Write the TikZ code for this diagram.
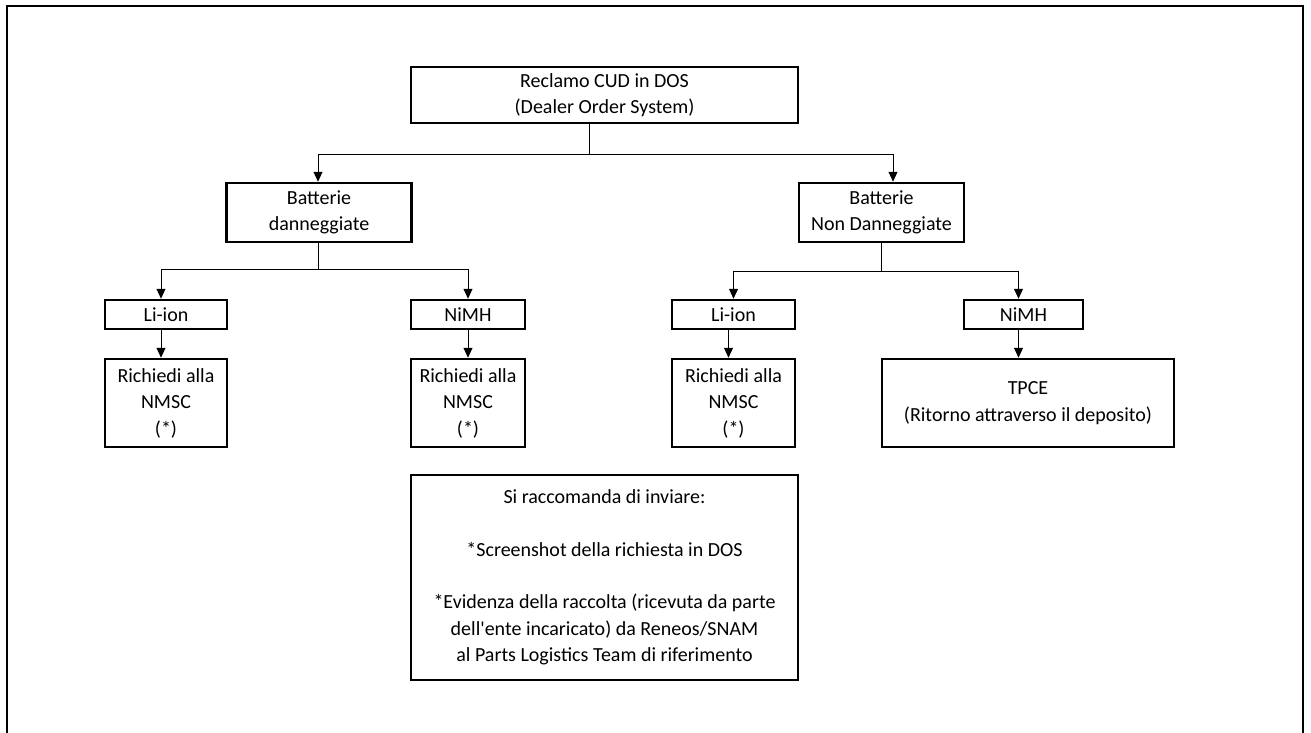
\documentclass[tikz,border=0pt]{standalone}
\usepackage{fontspec}
\setmainfont{Carlito}
\usetikzlibrary{arrows.meta,positioning}

\tikzset{
  box/.style={draw, line width=2.5pt, align=center, inner sep=0pt},
  link/.style={line width=1pt},
  arr/.style={link, -{Triangle[width=9pt,length=10pt]}}
}

\begin{document}
\begin{tikzpicture}[x=1pt,y=-1pt,font=\fontsize{20}{26.5}\selectfont]
    \useasboundingbox (0,0) rectangle (1311,733);
    \draw[line width=2.5pt] (7,733) -- (7,6) -- (1303,6) -- (1303,733);

    \node[box, minimum width=387, minimum height=56] (cud) at (604.5,95)
      {Reclamo CUD in DOS\\(Dealer Order System)};
    \node[box, minimum width=185, minimum height=59] (dan) at (319,212.5)
      {Batterie\\danneggiate};
    \node[box, minimum width=165, minimum height=59] (nondan) at (881.5,212.5)
      {Batterie\\Non Danneggiate};
    \node[box, minimum width=122, minimum height=29] (li1) at (166,314.5) {Li-ion};
    \node[box, minimum width=114, minimum height=29] (ni1) at (468,314.5) {NiMH};
    \node[box, minimum width=123, minimum height=29] (li2) at (733.5,314.5) {Li-ion};
    \node[box, minimum width=119, minimum height=29] (ni2) at (1023.5,314.5) {NiMH};
    \node[box, minimum width=122, minimum height=88] (r1) at (166,403)
      {Richiedi alla\\NMSC\\(*)};
    \node[box, minimum width=114, minimum height=88] (r2) at (468,403)
      {Richiedi alla\\NMSC\\(*)};
    \node[box, minimum width=123, minimum height=88] (r3) at (733.5,403)
      {Richiedi alla\\NMSC\\(*)};
    \node[box, minimum width=292, minimum height=88] (tpce) at (1028,403)
      {TPCE\\(Ritorno attraverso il deposito)};
    \node[box, minimum width=387, minimum height=205] (note) at (604.5,577.5)
      {Si raccomanda di inviare:\\[26pt]
       *Screenshot della richiesta in DOS\\[26pt]
       *Evidenza della raccolta (ricevuta da parte\\
       dell\textquotesingle ente incaricato) da Reneos/SNAM\\
       al Parts Logistics Team di riferimento};

    % first split
    \coordinate (c0) at (589,154);
    \draw[link] (cud.south -| c0) -- (c0);
    \draw[arr] (c0) -| ([xshift=-1]dan.north);
    \draw[arr] (c0) -| ([xshift=11.5]nondan.north);

    % damaged
    \draw[link] ([xshift=-1]dan.south) -- ++(0,26) coordinate (c1);
    \draw[arr] (c1) -| ([xshift=-5]li1.north);
    \draw[arr] (c1) -| (ni1.north);
    \draw[arr] ([xshift=-5]li1.south) -- ([xshift=-5]r1.north);
    \draw[arr] (ni1) -- (r2);

    % not damaged
    \draw[link] (nondan.south) -- ++(0,28) coordinate (c2);
    \draw[arr] (c2) -| (li2.north);
    \draw[arr] (c2) -| ([xshift=-5]ni2.north);
    \draw[arr] ([xshift=-5]li2.south) -- ([xshift=-5]r3.north);
    \draw[arr] ([xshift=-5]ni2.south) -- ([xshift=-5]ni2.south |- tpce.north);
\end{tikzpicture}
\end{document}
